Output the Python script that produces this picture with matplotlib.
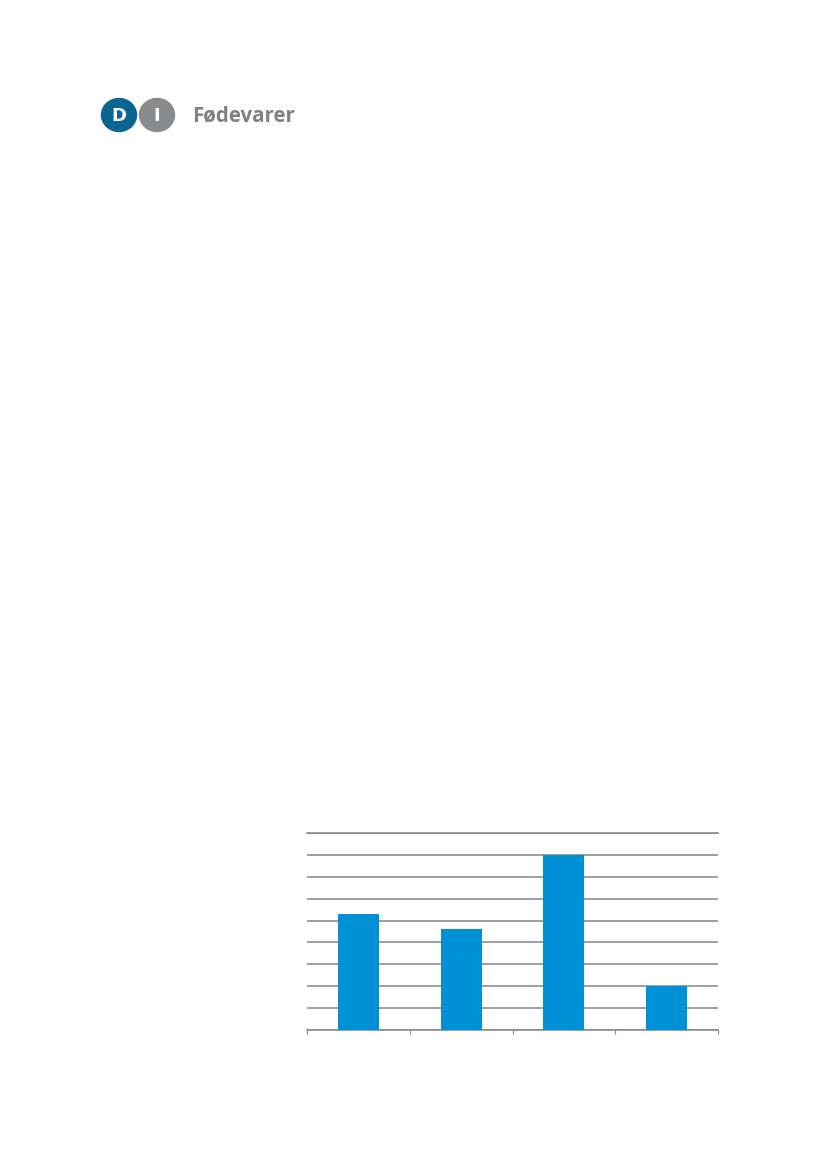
import matplotlib
matplotlib.use('Agg')
import matplotlib.pyplot as plt
from matplotlib.patches import Ellipse

# bar values (no labels in the reference, unit = one gridline step)
categories = ['A', 'B', 'C', 'D']
values = [5.3, 4.6, 8.0, 2.0]
y_ticks = list(range(0, 10))

W, H = 827, 1170
fig = plt.figure(figsize=(W / 100, H / 100), dpi=100)

# logo layer in pixel coordinates
logo = fig.add_axes([0, 0, 1, 1])
logo.set_xlim(0, W)
logo.set_ylim(H, 0)
logo.axis('off')
logo.add_patch(Ellipse((119, 115), 35, 33, color='#0a6690'))
logo.add_patch(Ellipse((157, 115), 35, 33, color='#8a8b8d'))
logo.text(119, 116, 'D', color='white', fontsize=13, fontweight='bold',
          ha='center', va='center')
logo.text(157, 116, 'I', color='white', fontsize=13, fontweight='bold',
          ha='center', va='center')
logo.text(192, 116, 'Fødevarer', color='#808184', fontsize=14.8, fontweight='bold',
          ha='left', va='center', family='Open Sans')

# chart
left, right, bottom, top = 307, 718, 1030, 833
ax = fig.add_axes([left / W, 1 - bottom / H, (right - left) / W, (bottom - top) / H])
x = list(range(len(categories)))
ax.bar(x, values, width=0.4, color='#0090d6', zorder=3)
ax.set_xlim(-0.5, len(categories) - 0.5)
ax.set_ylim(0, 9)
ax.set_yticks(y_ticks)
ax.yaxis.grid(True, color='#858585', linewidth=1.1)
ax.set_axisbelow(True)
ax.tick_params(axis='y', length=0, labelleft=False)
ax.set_xticks([i - 0.5 for i in range(len(categories) + 1)])
ax.tick_params(axis='x', direction='out', length=3, color='#858585', labelbottom=False)
for s in ['top', 'right', 'left']:
    ax.spines[s].set_visible(False)
ax.spines['bottom'].set_color('#858585')
ax.spines['bottom'].set_linewidth(1.1)
# top gridline at 9
ax.axhline(9, color='#858585', linewidth=1.1, zorder=1, clip_on=False)

fig.savefig('out.png', dpi=100)
